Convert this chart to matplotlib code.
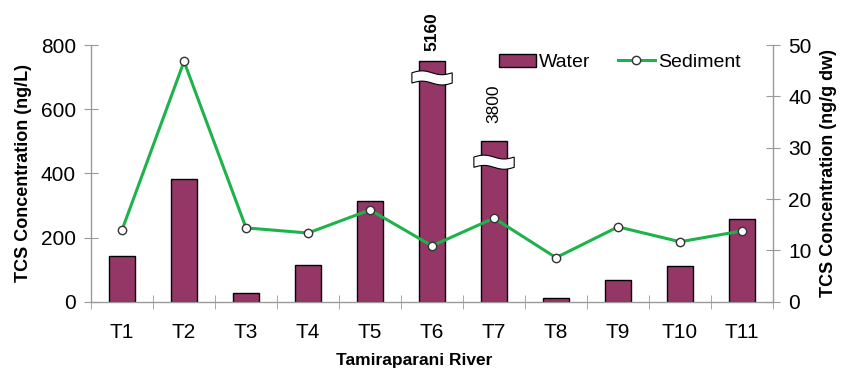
import numpy as np
import matplotlib.pyplot as plt
from matplotlib.patches import Polygon
from matplotlib.lines import Line2D
from matplotlib.patches import Patch

plt.rcParams['font.family'] = ['Liberation Sans', 'DejaVu Sans']

sites = ['T1', 'T2', 'T3', 'T4', 'T5', 'T6', 'T7', 'T8', 'T9', 'T10', 'T11']
# water concentration (ng/L), T6 and T7 are shown truncated
water = [143, 383, 28, 115, 315, 750, 500, 12, 69, 112, 259]
water_true = {5: '5160', 6: '3800'}
break_at = {5: 0.93, 6: 0.87}
label_gap = {5: 30, 6: 58}
# sediment concentration (ng/g dw)
sediment = [14.0, 46.8, 14.4, 13.4, 17.9, 10.9, 16.3, 8.6, 14.6, 11.7, 13.8]

bar_col = '#943767'
line_col = '#1db34a'
grey = '#9a9a9a'

fig = plt.figure(figsize=(8.43, 3.69), dpi=100)
ax = fig.add_axes([0.108, 0.182, 0.809, 0.696])
ax2 = ax.twinx()

x = np.arange(len(sites))
bw = 0.41
ax.bar(x, water, width=bw, color=bar_col, edgecolor='black', linewidth=1.0, zorder=2)
ax2.plot(x, sediment, color=line_col, lw=2.2, marker='o', ms=6,
         mfc='white', mec='#333333', mew=1.0, zorder=3)

# break symbols on the truncated bars
for i, frac in break_at.items():
    yc = water[i] * frac
    hw = bw / 2 + 0.12
    t = np.linspace(-hw, hw, 30)
    h = 16
    wave = 6 * np.sin((t + hw) / (2 * hw) * 2 * np.pi)
    top = np.column_stack([i + t, yc + h + wave])
    bot = np.column_stack([i + t[::-1], yc - h + wave[::-1]])
    ax.add_patch(Polygon(np.vstack([top, bot]), closed=True, fc='white',
                         ec='black', lw=0.8, zorder=4))

for i, lbl in water_true.items():
    ax.text(i, water[i] + label_gap[i], lbl, rotation=90, ha='center', va='bottom',
            fontsize=12.5, fontweight='bold' if i == 5 else 'normal',
            clip_on=False)

ax.set_xlim(-0.5, len(sites) - 0.5)
ax.set_ylim(0, 800)
ax2.set_ylim(0, 50)
ax.set_yticks([0, 200, 400, 600, 800])
ax2.set_yticks([0, 10, 20, 30, 40, 50])
ax.set_xticks(x)
ax.set_xticklabels(sites)
ax.set_xticks(np.arange(-0.5, len(sites), 1), minor=True)

for a in (ax, ax2):
    a.spines['top'].set_visible(False)
    for s in ('left', 'right', 'bottom'):
        a.spines[s].set_color(grey)
        a.spines[s].set_linewidth(1.0)
ax.spines['right'].set_visible(False)
ax2.spines['left'].set_visible(False)
ax2.spines['bottom'].set_visible(False)

ax.tick_params(axis='y', direction='inout', length=10, color=grey, labelsize=15, pad=6)
ax2.tick_params(axis='y', direction='inout', length=10, color=grey, labelsize=15, pad=6)
ax.tick_params(axis='x', which='major', length=0, labelsize=15, pad=15)
ax.tick_params(axis='x', which='minor', direction='inout', length=10, color=grey)

ax.set_ylabel('TCS Concentration (ng/L)', fontsize=13, fontweight='bold', labelpad=6)
ax2.set_ylabel('TCS Concentration (ng/g dw)', fontsize=13, fontweight='bold', labelpad=6)
ax.set_xlabel('Tamiraparani River', fontsize=12.5, fontweight='bold', labelpad=8, x=0.474)

handles = [Patch(fc=bar_col, ec='black', lw=1.0),
           Line2D([], [], color=line_col, lw=2.2, marker='o', ms=6,
                  mfc='white', mec='#333333', mew=1.0)]
ax.legend(handles, ['Water', 'Sediment'], ncol=2, frameon=False, fontsize=14,
          loc='upper left', bbox_to_anchor=(0.573, 1.035), handlelength=1.9,
          handletextpad=0.15, columnspacing=1.4)

fig.savefig('out.png', dpi=100)
